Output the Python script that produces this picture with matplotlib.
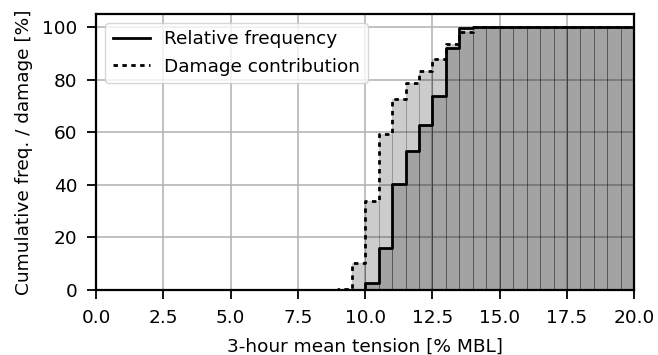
import matplotlib
matplotlib.use("Agg")
import matplotlib.pyplot as plt

# bin left edges [% MBL], bin width 0.5
bin_left = [i * 0.5 for i in range(40)]
bin_width = 0.5

# cumulative relative frequency [%]
cum_freq = ([0.0] * 18
            + [0.0, 0.0, 2.5, 15.9, 40.3, 52.7, 62.9, 73.7, 91.9, 99.7]
            + [100.0] * 12)

# cumulative damage contribution [%]
cum_damage = ([0.0] * 18
              + [0.5, 10.1, 33.9, 59.5, 72.7, 78.8, 83.2, 87.7, 93.4, 98.2]
              + [100.0] * 12)

plt.rcParams["font.size"] = 13.3

fig = plt.figure(figsize=(6.58, 3.55), dpi=100)
ax = fig.add_axes([0.146, 0.183, 0.818, 0.778])
ax.set_axisbelow(True)
ax.grid(True, color="#b0b0b0", linewidth=1.1)

ax.bar(bin_left, cum_damage, width=bin_width, align="edge", color="k",
       alpha=0.2, edgecolor="k", linewidth=0.5)
ax.bar(bin_left, cum_freq, width=bin_width, align="edge", color="k",
       alpha=0.2, edgecolor="k", linewidth=0.5)

x_step = bin_left + [bin_left[-1] + bin_width]
ax.step(x_step, cum_freq + [100.0], where="post", color="k", lw=2.0,
        label="Relative frequency")
ax.step(x_step, cum_damage + [100.0], where="post", color="k", lw=2.0,
        ls=(0, (1.6, 1.6)), label="Damage contribution")

ax.set_xlim(0, 20)
ax.set_ylim(0, 105)
ax.set_yticks([0, 20, 40, 60, 80, 100])
ax.set_xlabel("3-hour mean tension [% MBL]", labelpad=8)
ax.set_ylabel("Cumulative freq. / damage [%]", labelpad=7)
ax.tick_params(direction="out", length=6.3, width=1.3, pad=7)
for s in ax.spines.values():
    s.set_linewidth(1.6)
ax.legend(loc="upper left")

fig.savefig("out.png", dpi=100)
